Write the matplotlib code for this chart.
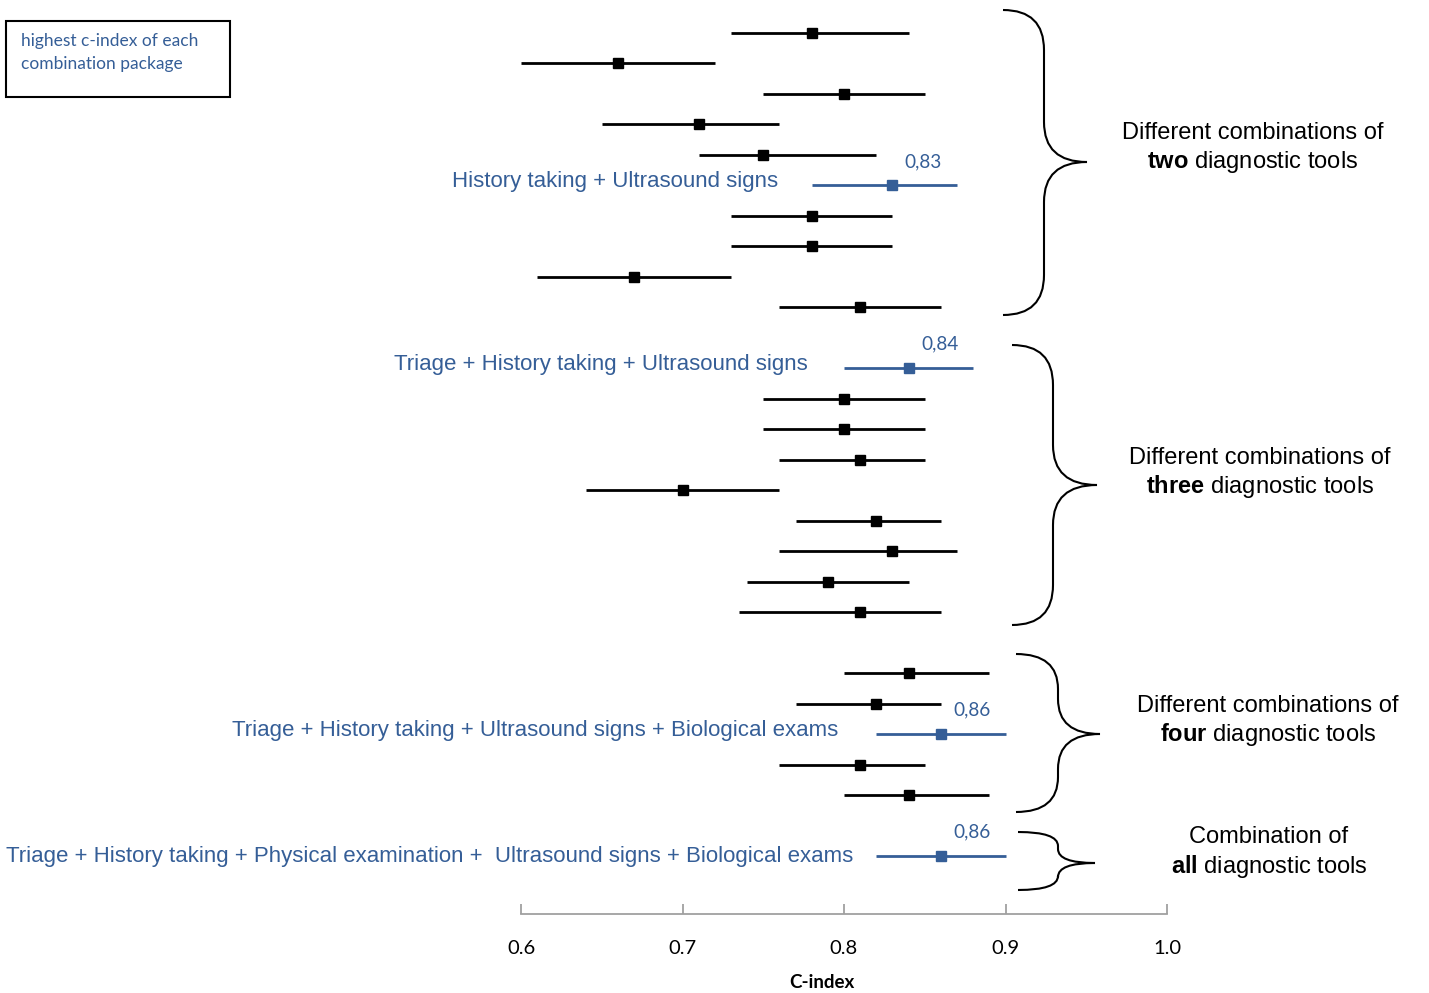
import matplotlib.pyplot as plt
from matplotlib.path import Path
from matplotlib.patches import PathPatch, Rectangle

plt.rcParams['mathtext.fontset'] = 'custom'
plt.rcParams['mathtext.rm'] = 'Liberation Sans'
plt.rcParams['mathtext.bf'] = 'Liberation Sans:bold'

BLUE = '#355e97'

# row slots (gaps between groups are empty rows)
rows = [0, 1, 2, 3, 4, 5, 6, 7, 8, 9,
        11, 12, 13, 14, 15, 16, 17, 18, 19,
        21, 22, 23, 24, 25,
        27]
est = [0.78, 0.66, 0.80, 0.71, 0.75, 0.83, 0.78, 0.78, 0.67, 0.81,
       0.84, 0.80, 0.80, 0.81, 0.70, 0.82, 0.83, 0.79, 0.81,
       0.84, 0.82, 0.86, 0.81, 0.84,
       0.86]
lo = [0.73, 0.60, 0.75, 0.65, 0.71, 0.78, 0.73, 0.73, 0.61, 0.76,
      0.80, 0.75, 0.75, 0.76, 0.64, 0.77, 0.76, 0.74, 0.735,
      0.80, 0.77, 0.82, 0.76, 0.80,
      0.82]
hi = [0.84, 0.72, 0.85, 0.76, 0.82, 0.87, 0.83, 0.83, 0.73, 0.86,
      0.88, 0.85, 0.85, 0.85, 0.76, 0.86, 0.87, 0.84, 0.86,
      0.89, 0.86, 0.90, 0.85, 0.89,
      0.90]

best = [5, 10, 21, 24]
best_labels = ["History taking + Ultrasound signs",
               "Triage + History taking + Ultrasound signs",
               "Triage + History taking + Ultrasound signs + Biological exams",
               "Triage + History taking + Physical examination +  Ultrasound signs + Biological exams"]
label_gap = [34, 36, 38, 23]  # px between label and CI line

groups = ["two", "three", "four", "all"]

W, H = 1429, 993
fig = plt.figure(figsize=(W / 100, H / 100), dpi=100)
ax = fig.add_axes([521 / W, (H - 914) / H, 646 / W, 914 / H])
ax.set_xlim(0.6, 1.0)
ax.set_ylim(28.90, -1.083)

for i, (r, e, l, h) in enumerate(zip(rows, est, lo, hi)):
    c = BLUE if i in best else 'black'
    ax.plot([l, h], [r, r], color=c, lw=2, solid_capstyle='butt', clip_on=False)
    ax.plot(e, r, 's', color=c, ms=7, clip_on=False)

for k, i in enumerate(best):
    ax.annotate(best_labels[k], xy=(lo[i], rows[i]), xytext=(-label_gap[k], 4 if k < 3 else 0),
                textcoords='offset pixels', ha='right', va='center',
                color=BLUE, fontsize=16, family='Liberation Sans', annotation_clip=False)
    ax.annotate(f"{est[i]:.2f}".replace('.', ','), xy=(est[i], rows[i]), xytext=(31, 24),
                textcoords='offset pixels', ha='center', va='center',
                color=BLUE, fontsize=13.7, family='Lato', annotation_clip=False)

for s in ['top', 'left', 'right']:
    ax.spines[s].set_visible(False)
ax.spines['bottom'].set_color('#a0a0a0')
ax.spines['bottom'].set_linewidth(1.3)
ax.set_yticks([])
ax.set_xticks([0.6, 0.7, 0.8, 0.9, 1.0])
ax.set_xticklabels(['0.6', '0.7', '0.8', '0.9', '1.0'], family='Lato', fontsize=14.5)
ax.tick_params(axis='x', direction='in', length=7, width=1.3, color='#a0a0a0', pad=19)
fig.text(822 / W, 1 - 983 / H, 'C-index', ha='center', va='center',
         family='Lato', fontweight='bold', fontsize=13.5)


def px(x, y):
    return (x / W, 1 - y / H)


def brace(x0, xm, xt, yt, yb, ym, r):
    verts = [px(x0, yt), px(xm, yt), px(xm, yt + r), px(xm, ym - r),
             px(xm, ym), px(xt, ym), px(xm, ym), px(xm, ym + r),
             px(xm, yb - r), px(xm, yb), px(x0, yb)]
    codes = [Path.MOVETO, Path.CURVE3, Path.CURVE3, Path.LINETO,
             Path.CURVE3, Path.CURVE3, Path.CURVE3, Path.CURVE3,
             Path.LINETO, Path.CURVE3, Path.CURVE3]
    fig.add_artist(PathPatch(Path(verts, codes), fill=False, lw=1.5,
                             edgecolor='black', transform=fig.transFigure))


brace(1003, 1044, 1087, 10, 315, 162, 40)
brace(1012, 1053, 1097, 345, 625, 485, 40)
brace(1016, 1058, 1100, 654, 812, 734, 35)
brace(1018, 1058, 1095, 832, 890, 863, 14)

group_text = [(1253, 133, 162), (1260, 458, 487), (1268, 706, 735), (1269, 837, 866)]
for g, (cx, y1, y2) in zip(groups, group_text):
    first = "Combination of" if g == "all" else "Different combinations of"
    fig.text(*px(cx, y1), first, ha='center', va='center', fontsize=17, family='Liberation Sans')
    fig.text(*px(cx, y2), r"$\bf{" + g + "}$ diagnostic tools", ha='center', va='center',
             fontsize=17, family='Liberation Sans')

x0, y0 = px(6, 97)
fig.add_artist(Rectangle((x0, y0), 224 / W, 76 / H, fill=False, lw=1.5,
                         edgecolor='black', transform=fig.transFigure))
fig.text(*px(21, 41), "highest c-index of each", ha='left', va='center', color=BLUE,
         fontsize=12.5, family='Lato')
fig.text(*px(21, 64), "combination package", ha='left', va='center', color=BLUE,
         fontsize=12.5, family='Lato')

fig.savefig('out.png', dpi=100)
